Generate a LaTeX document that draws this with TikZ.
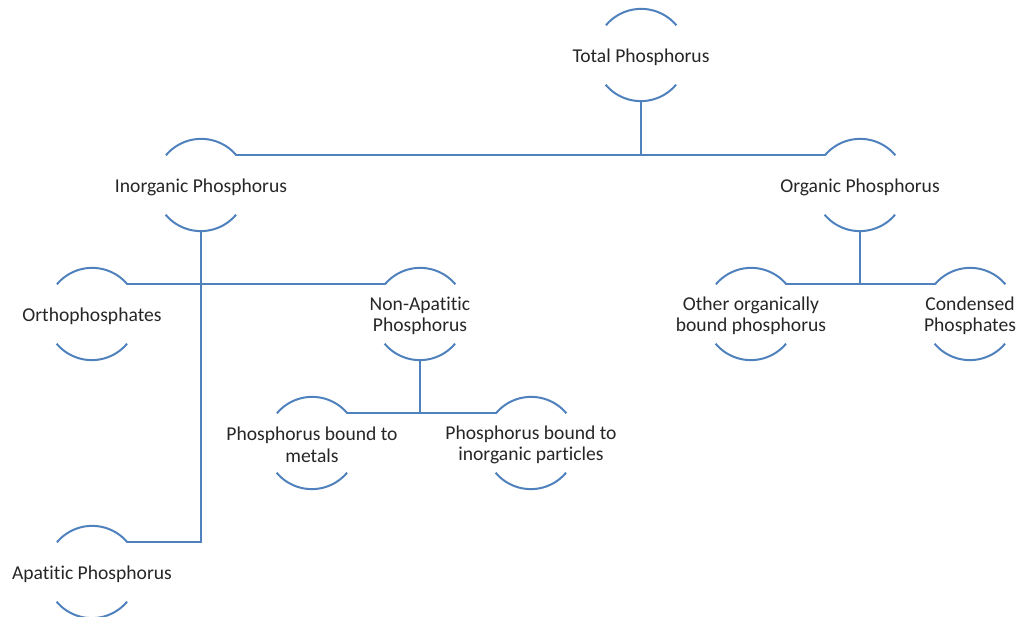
\documentclass[tikz,border=0pt]{standalone}
\usepackage{fontspec}
\setmainfont[Ligatures=NoCommon]{Carlito}
\definecolor{ringblue}{RGB}{79,129,189}
\begin{document}
\begin{tikzpicture}[x=1pt, y=1pt,
		ring/.style={circle, draw=none, inner sep=0pt, minimum size=92pt},
		txt/.style={align=center, text=black!85, inner sep=0pt, yshift=-2pt,
			font=\fontsize{19.6}{21.5}\selectfont},
		link/.style={draw=ringblue, line width=2pt}]
	\useasboundingbox (0,0) rectangle (1018,617);

	\node[ring] (tot) at (641,562) {};
	\node[ring] (inorg) at (201,432) {};
	\node[ring] (org) at (860,432) {};
	\node[ring] (ortho) at (92,303) {};
	\node[ring] (nonap) at (420,303) {};
	\node[ring] (metals) at (312,174) {};
	\node[ring] (partic) at (531,174) {};
	\node[ring] (apat) at (92,45) {};
	\node[ring] (other) at (751,303) {};
	\node[ring] (cond) at (970,303) {};

	\node[txt] (totT) at (tot) {Total Phosphorus};
	\node[txt] (inorgT) at (inorg) {Inorganic Phosphorus};
	\node[txt] (orgT) at (org) {Organic Phosphorus};
	\node[txt] (orthoT) at (ortho) {Orthophosphates};
	\node[txt] (nonapT) at (nonap) {Non-Apatitic\\Phosphorus};
	\node[txt] (metalsT) at (metals) {Phosphorus bound to\\metals};
	\node[txt] (particT) at (partic) {Phosphorus bound to\\inorganic particles};
	\node[txt] (apatT) at (apat) {Apatitic Phosphorus};
	\node[txt] (otherT) at (other) {Other organically\\bound phosphorus};
	\node[txt] (condT) at (cond) {Condensed\\Phosphates};

	% open rings round each label
	\foreach \n in {tot, inorg, org, ortho, nonap, metals, partic, apat, other, cond} {
		\draw[link] (\n.40) arc (40:140:46);
		\draw[link] (\n.220) arc (220:320:46);
	}

	\draw[link] (tot.south) -- (tot.south |- inorg.40);
	\draw[link] (inorg.40) -- (org.140);
	\draw[link] (inorg.south) -- (inorg.south |- apat.40) -- (apat.40);
	\draw[link] (ortho.40) -- (nonap.140);
	\draw[link] (nonap.south) -- (nonap.south |- metals.40);
	\draw[link] (metals.40) -- (partic.140);
	\draw[link] (org.south) -- (org.south |- other.40);
	\draw[link] (other.40) -- (cond.140);
\end{tikzpicture}
\end{document}
